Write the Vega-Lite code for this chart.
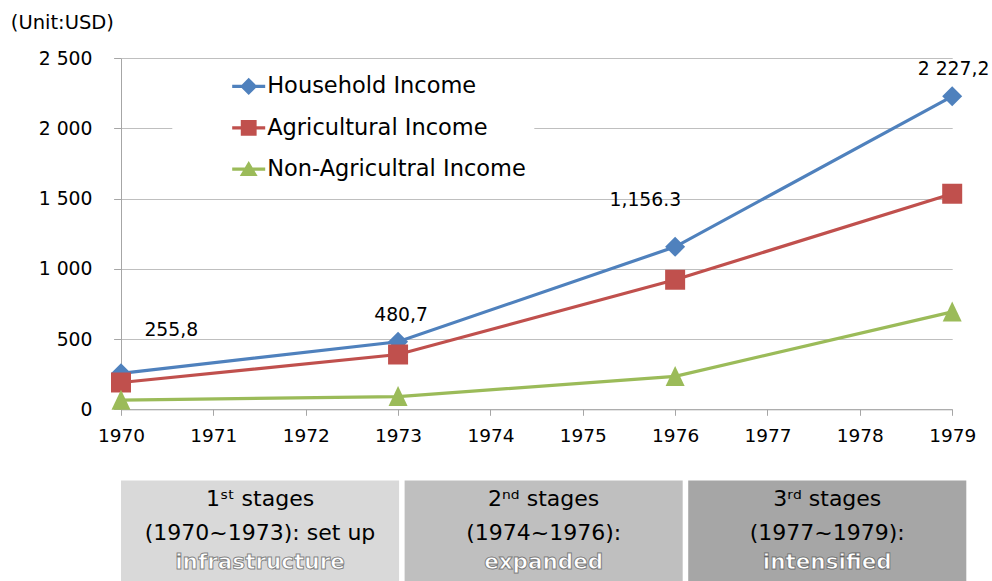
{
  "$schema": "https://vega.github.io/schema/vega-lite/v6.json",
  "background": "white",
  "padding": {"left": 10, "top": 12, "right": 0, "bottom": 0},
  "config": {"view": {"stroke": null}, "font": "DejaVu Sans"},
  "spacing": 34.4,
  "vconcat": [
    {
      "width": 831.2,
      "height": 351.3,
      "data": {
        "values": [
          {"series": "Household Income", "year": 1970, "value": 255.8, "label": "255,8"},
          {"series": "Household Income", "year": 1973, "value": 480.7, "label": "480,7"},
          {"series": "Household Income", "year": 1976, "value": 1156.3, "label": "1,156.3"},
          {"series": "Household Income", "year": 1979, "value": 2227.2, "label": "2 227,2"},
          {"series": "Agricultural Income", "year": 1970, "value": 190.8},
          {"series": "Agricultural Income", "year": 1973, "value": 390},
          {"series": "Agricultural Income", "year": 1976, "value": 922},
          {"series": "Agricultural Income", "year": 1979, "value": 1534},
          {"series": "Non-Agricultral Income", "year": 1970, "value": 65},
          {"series": "Non-Agricultral Income", "year": 1973, "value": 90.7},
          {"series": "Non-Agricultral Income", "year": 1976, "value": 234.3},
          {"series": "Non-Agricultral Income", "year": 1979, "value": 693.2}
        ]
      },
      "encoding": {
        "x": {
          "field": "year", "type": "quantitative",
          "scale": {"domain": [1970, 1979], "nice": false, "zero": false},
          "axis": {
            "values": [1970, 1971, 1972, 1973, 1974, 1975, 1976, 1977, 1978, 1979],
            "format": "d", "title": null, "grid": false,
            "tickSize": 6, "tickColor": "#a6a6a6", "domainColor": "#a6a6a6",
            "labelFontSize": 18.5, "labelFont": "DejaVu Sans", "labelColor": "black",
            "labelPadding": 11.5, "labelFlush": false, "labelOverlap": false
          }
        },
        "y": {
          "field": "value", "type": "quantitative",
          "scale": {"domain": [0, 2500], "nice": false},
          "axis": {
            "values": [0, 500, 1000, 1500, 2000, 2500],
            "labelExpr": "replace(format(datum.value, ','), ',', ' ')",
            "title": "(Unit:USD)", "titleAngle": 0, "titleX": -110.7, "titleY": -36,
            "titleAlign": "left", "titleBaseline": "middle",
            "titleFont": "DejaVu Sans", "titleFontSize": 19.5, "titleFontWeight": "normal", "titleColor": "black",
            "grid": true, "gridColor": "#bfbfbf",
            "tickSize": 7.4, "tickColor": "#a6a6a6", "domainColor": "#a6a6a6",
            "labelPadding": 21.6, "labelFontSize": 18.8, "labelFont": "DejaVu Sans", "labelColor": "black"
          }
        }
      },
      "layer": [
        {
          "mark": {"type": "line", "strokeWidth": 3.2},
          "encoding": {
            "color": {
              "field": "series", "type": "nominal",
              "scale": {"domain": ["Household Income", "Agricultural Income", "Non-Agricultral Income"], "range": ["#4f81bd", "#c0504d", "#9bbb59"]},
              "legend": {
                "orient": "none", "legendX": 51.3, "legendY": 3.9, "title": null,
                "fillColor": "white", "strokeColor": null, "padding": 8,
                "symbolSize": 1089, "symbolOffset": 51.9, "labelOffset": 2, "rowPadding": 13.4,
                "labelFontSize": 22.5, "labelFont": "DejaVu Sans", "labelColor": "black", "labelLimit": 600,
                "symbolStrokeWidth": 0, "symbolOpacity": 1,
                "encode": {
                  "symbols": {
                    "update": {
                      "shape": {"signal": "datum.value === 'Household Income' ? 'M-1,-0.1L1,-0.1L1,0.1L-1,0.1Z M0,-0.52L0.52,0L0,0.52L-0.52,0Z' : datum.value === 'Agricultural Income' ? 'M-1,-0.1L1,-0.1L1,0.1L-1,0.1Z M-0.48,-0.48L0.48,-0.48L0.48,0.48L-0.48,0.48Z' : 'M-1,-0.1L1,-0.1L1,0.1L-1,0.1Z M0,-0.5L0.54,0.41L-0.54,0.41Z'"},
                      "fill": {"signal": "datum.value === 'Household Income' ? '#4f81bd' : datum.value === 'Agricultural Income' ? '#c0504d' : '#9bbb59'"},
                      "fillOpacity": {"value": 1},
                      "opacity": {"value": 1}
                    }
                  }
                }
              }
            }
          }
        },
        {
          "transform": [{"filter": "datum.series === 'Household Income'"}],
          "mark": {"type": "point", "filled": true, "opacity": 1, "size": 400, "shape": "diamond"},
          "encoding": {"color": {"field": "series", "type": "nominal"}}
        },
        {
          "transform": [{"filter": "datum.series === 'Agricultural Income'"}],
          "mark": {"type": "point", "filled": true, "opacity": 1, "size": 400, "shape": "square"},
          "encoding": {"color": {"field": "series", "type": "nominal"}}
        },
        {
          "transform": [{"filter": "datum.series === 'Non-Agricultral Income'"}],
          "mark": {"type": "point", "filled": true, "opacity": 1, "size": 400, "shape": "M0,-1.05L0.95,0.95L-0.95,0.95Z"},
          "encoding": {"color": {"field": "series", "type": "nominal"}}
        },
        {
          "transform": [{"filter": "datum.label && datum.year === 1970"}],
          "mark": {"type": "text", "fontSize": 18.8, "font": "DejaVu Sans", "color": "black", "dx": 50.3, "dy": -43.7},
          "encoding": {"text": {"field": "label"}}
        },
        {
          "transform": [{"filter": "datum.label && datum.year === 1973"}],
          "mark": {"type": "text", "fontSize": 18.8, "font": "DejaVu Sans", "color": "black", "dx": 3, "dy": -27},
          "encoding": {"text": {"field": "label"}}
        },
        {
          "transform": [{"filter": "datum.label && datum.year === 1976"}],
          "mark": {"type": "text", "fontSize": 18.8, "font": "DejaVu Sans", "color": "black", "dx": -29.8, "dy": -47},
          "encoding": {"text": {"field": "label"}}
        },
        {
          "transform": [{"filter": "datum.label && datum.year === 1979"}],
          "mark": {"type": "text", "fontSize": 18.8, "font": "DejaVu Sans", "color": "black", "dx": 1.4, "dy": -27.4},
          "encoding": {"text": {"field": "label"}}
        }
      ]
    },
    {
      "width": 845.3,
      "height": 105,
      "data": {
        "values": [
          {"stage": "1st", "line1": "1ˢᵗ stages", "line2": "(1970~1973): set up", "line3": "infrastructure"},
          {"stage": "2nd", "line1": "2ⁿᵈ stages", "line2": "(1974~1976):", "line3": "expanded"},
          {"stage": "3rd", "line1": "3ʳᵈ stages", "line2": "(1977~1979):", "line3": "intensified"}
        ]
      },
      "encoding": {
        "x": {"field": "stage", "type": "nominal", "sort": null, "scale": {"paddingInner": 0.0195, "paddingOuter": 0}, "axis": null}
      },
      "layer": [
        {
          "mark": {"type": "rect"},
          "encoding": {
            "fill": {"field": "stage", "type": "nominal", "sort": null, "scale": {"range": ["#d9d9d9", "#bfbfbf", "#a6a6a6"]}, "legend": null}
          }
        },
        {
          "mark": {"type": "text", "fontSize": 22, "font": "DejaVu Sans", "color": "black", "dy": -34.2},
          "encoding": {"text": {"field": "line1"}}
        },
        {
          "mark": {"type": "text", "fontSize": 22, "font": "DejaVu Sans", "color": "black", "dy": 0.5},
          "encoding": {"text": {"field": "line2"}}
        },
        {
          "mark": {"type": "text", "fontSize": 21.5, "font": "DejaVu Sans", "fontWeight": "bold", "color": "white", "stroke": "#3a3a3a", "strokeWidth": 1, "strokeOpacity": 0.6, "dy": 30.5},
          "encoding": {"text": {"field": "line3"}}
        }
      ]
    }
  ]
}
